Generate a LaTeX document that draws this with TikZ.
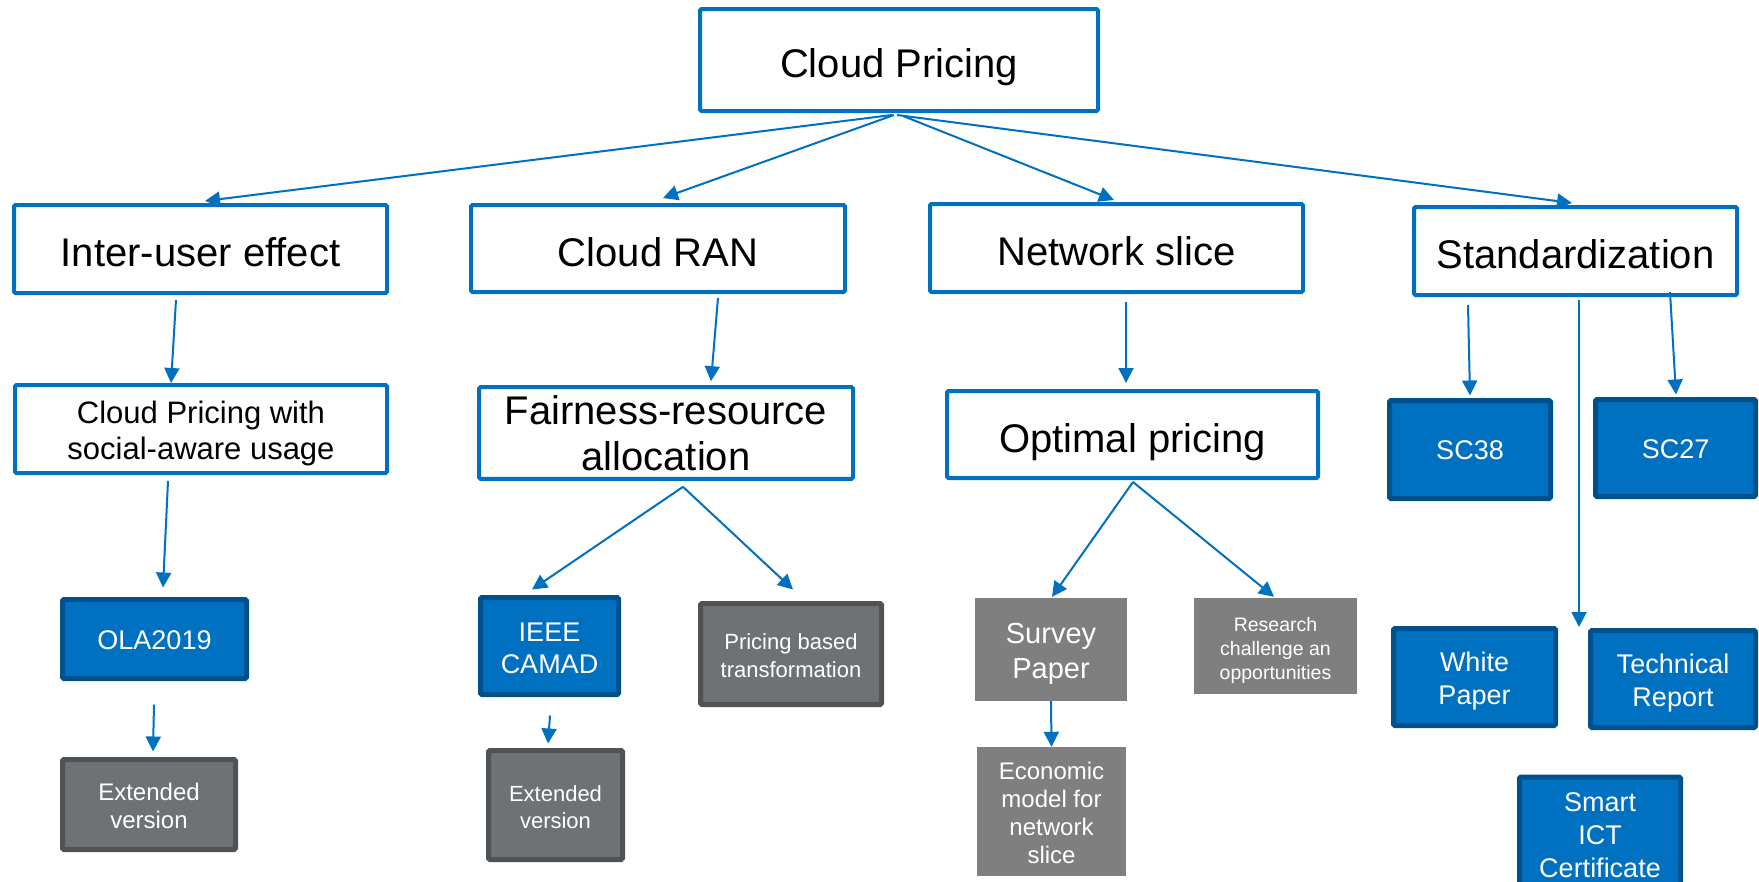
\documentclass[tikz,border=0pt]{standalone}
\usepackage{fontspec}
\setmainfont{Liberation Sans}
\usetikzlibrary{arrows.meta,calc}
\definecolor{cpblue}{RGB}{0,112,192}
\definecolor{cpdark}{RGB}{0,80,140}
\definecolor{gfill}{RGB}{110,114,117}
\definecolor{gdark}{RGB}{80,83,86}
\definecolor{sgray}{RGB}{127,127,127}
\newcommand{\ppstrutA}{\rule{0pt}{\dimexpr1.35em-10pt\relax}}
\newcommand{\ppstrutB}{\rule[-0.212em]{0pt}{0pt}}
\newcommand{\fl}{\rule{0pt}{\dimexpr0.73em+8pt\relax}}
\tikzset{
  sz/.style 2 args={minimum width=#1pt, minimum height=#2pt},
  tb/.style={inner sep=0pt, align=center, execute at begin node=\ppstrutA, execute at end node=\ppstrutB},
  wbox/.style={tb, draw=cpblue, line width=4pt, fill=white, text=black, rounded corners=1.5pt},
  bbox/.style={tb, draw=cpdark, line width=5pt, fill=cpblue, text=white, rounded corners=1.5pt},
  gbox/.style={tb, draw=gdark, line width=5pt, fill=gfill, text=white, rounded corners=1.5pt},
  sbox/.style={tb, fill=sgray, text=white},
  conn/.style={draw=cpblue, line width=2pt, -{Triangle[length=15pt,width=15pt]}},
  fs/.style 2 args={font=\fontsize{#1}{#2}\selectfont}
}
\begin{document}
\begin{tikzpicture}[x=1pt,y=-1pt]
\useasboundingbox (0,0) rectangle (1759,881);
\fill[white] (0,0) rectangle (1759,881);
\clip (0,0) rectangle (1759,881);

% top
\node[wbox, sz={398}{102}, fs={40}{46}] (cp) at (899,60) {Cloud Pricing};
% level 1
\node[wbox, sz={373}{88}, fs={40}{46}] (iue) at (200.5,249) {Inter-user effect};
\node[wbox, sz={374}{87}, fs={40}{46}] (cran) at (658,248.5) {Cloud RAN};
\node[wbox, sz={373}{88}, fs={40}{46}] (ns) at (1116.5,248) {Network slice};
\node[wbox, sz={323}{88}, fs={40}{46}] (std) at (1575.5,251) {Standardization};
% level 2
\node[wbox, sz={372}{88}, fs={31}{36}] (social) at (201,429) {\fl Cloud Pricing with\\social-aware usage};
\node[wbox, sz={374}{88}, fs={40}{46}] (fair) at (666,433) {\fl Fairness-resource\\allocation};
\node[wbox, sz={371}{87}, fs={40}{46}] (opt) at (1132.5,434.5) {Optimal pricing};
% level 3
\node[bbox, sz={184}{79}, fs={27}{32}] (ola) at (154.5,639) {OLA2019};
\node[gbox, sz={173}{90}, fs={24}{28}] (ext1) at (149,804.5) {\fl Extended\\version};
\node[bbox, sz={138}{97}, fs={27}{32}] (camad) at (549.5,646) {\fl IEEE\\CAMAD};
\node[gbox, sz={134}{109}, fs={22}{27}] (ext2) at (555.5,805) {\fl Extended\\version};
\node[gbox, sz={181}{101}, fs={22}{28}] (pbt) at (791,654) {\fl Pricing based\\transformation};
\node[sbox, sz={152}{103}, fs={29}{35}] (survey) at (1051,649.5) {\fl Survey\\Paper};
\node[sbox, sz={149}{129}, fs={24}{28}] (econ) at (1051.5,811.5) {\fl Economic\\model for\\network\\slice};
\node[sbox, sz={163}{96}, fs={19.5}{24}] (research) at (1275.5,646) {\fl Research\\challenge an\\opportunities};
\node[bbox, sz={161}{98}, fs={27}{32}] (sc38) at (1470,449.5) {SC38};
\node[bbox, sz={160}{97}, fs={27}{32}] (sc27) at (1675.5,448) {SC27};
\node[bbox, sz={162}{97}, fs={27}{33}] (white) at (1474.5,677) {\fl White\\Paper};
\node[bbox, sz={165}{97}, fs={27}{33}] (tech) at (1673,679) {\fl Technical\\Report};
\node[bbox, sz={161}{112}, fs={27}{33}] (smart) at (1600,833) {\fl Smart\\ICT\\Certificate};
\coordinate (stdtip) at (1579,627);

% connectors
\draw[conn] ($(cp.south)+(-7,2)$) -- ($(iue.north)+(4.5,-2)$);
\draw[conn] ($(cp.south)+(-5,2)$) -- ($(cran.north)+(5,-5)$);
\draw[conn] ($(cp.south)+(4,3)$) -- ($(ns.north)+(-2.5,-2)$);
\draw[conn] ($(cp.south)+(-2,2)$) -- ($(std.north)+(-3.5,-2)$);
\draw[conn] ($(iue.south)+(-24.5,5)$) -- ($(social.north)+(-30,0)$);
\draw[conn] ($(social.south)+(-33,6)$) -- ($(ola.north)+(8.5,-9.5)$);
\draw[conn] ($(ola.south)+(-0.5,23.5)$) -- ($(ext1.north)+(4,-5.5)$);
\draw[conn] ($(cran.south)+(60,4)$) -- ($(fair.north)+(45,-4)$);
\draw[conn] ($(fair.south)+(17,6)$) -- ($(camad.north)+(-17.5,-5.5)$);
\draw[conn] ($(fair.south)+(17,6)$) -- ($(pbt.north)+(2,-11.5)$);
\draw[conn] ($(camad.south)+(0.5,18.5)$) -- ($(ext2.north)+(-7.5,-4.5)$);
\draw[conn] ($(ns.south)+(9.5,8)$) -- ($(opt.north)+(-6.5,-6)$);
\draw[conn] ($(opt.south)+(0.5,2)$) -- ($(survey.north)+(1,-1)$);
\draw[conn] ($(opt.south)+(0.5,2)$) -- ($(research.north)+(-1.5,-1)$);
\draw[conn] (survey.south) -- (econ.north);
\draw[conn] ($(std.south)+(-107.5,8)$) -- ($(sc38.north)+(0,-2.5)$);
\draw[conn] ($(std.south)+(94.5,-5)$) -- ($(sc27.north)+(0.5,-2.5)$);
\draw[conn] ($(std.south)+(3.5,3)$) -- (stdtip);
\end{tikzpicture}
\end{document}
